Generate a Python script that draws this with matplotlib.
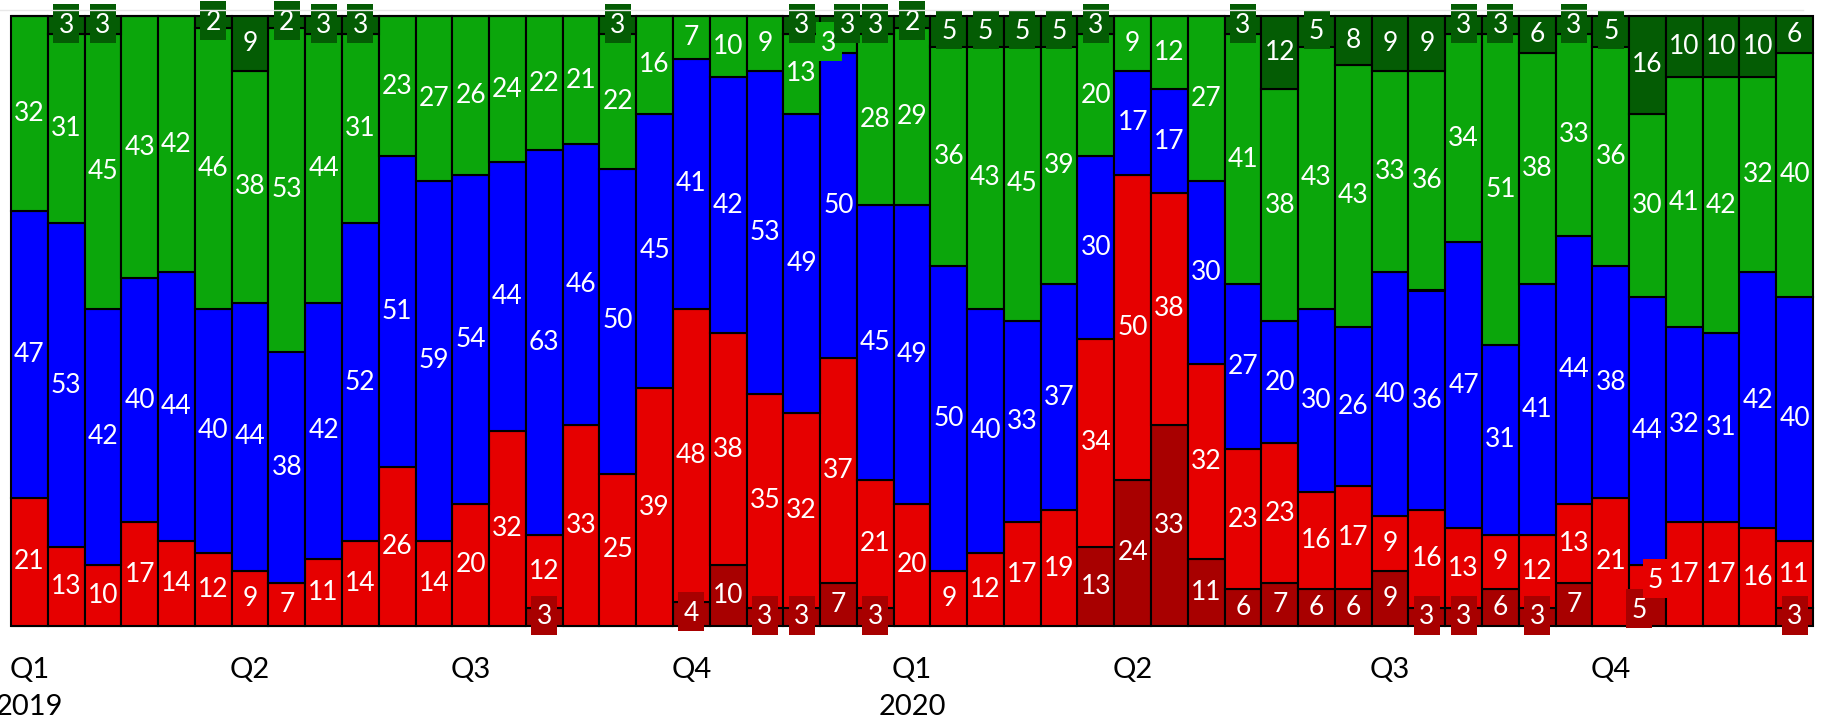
import matplotlib
matplotlib.use('Agg')
import matplotlib.pyplot as plt
from matplotlib.lines import Line2D
from matplotlib.patches import Rectangle

# ---- data (percent shares per bar, bottom to top) ----
dark_red = [0, 0, 0, 0, 0, 0, 0, 0, 0, 0, 0, 0, 0, 0, 3, 0, 0, 0, 4, 10,
            3, 3, 7, 3, 0, 0, 0, 0, 0, 13, 24, 33, 11, 6, 7, 6, 6, 9, 3, 3,
            6, 3, 7, 0, 5, 0, 0, 0, 3]
red = [21, 13, 10, 17, 14, 12, 9, 7, 11, 14, 26, 14, 20, 32, 12, 33, 25, 39, 48, 38,
       35, 32, 37, 21, 20, 9, 12, 17, 19, 34, 50, 38, 32, 23, 23, 16, 17, 9, 16, 13,
       9, 12, 13, 21, 5, 17, 17, 16, 11]
blue = [47, 53, 42, 40, 44, 40, 44, 38, 42, 52, 51, 59, 54, 44, 63, 46, 50, 45, 41, 42,
        53, 49, 50, 45, 49, 50, 40, 33, 37, 30, 17, 17, 30, 27, 20, 30, 26, 40, 36, 47,
        31, 41, 44, 38, 44, 32, 31, 42, 40]
green = [32, 31, 45, 43, 42, 46, 38, 53, 44, 31, 23, 27, 26, 24, 22, 21, 22, 16, 7, 10,
         9, 13, 3, 28, 29, 36, 43, 45, 39, 20, 9, 12, 27, 41, 38, 43, 43, 33, 36, 34,
         51, 38, 33, 36, 30, 41, 42, 32, 40]
dark_green = [0, 3, 3, 0, 0, 2, 9, 2, 3, 3, 0, 0, 0, 0, 0, 0, 3, 0, 0, 0,
              0, 3, 3, 3, 2, 5, 5, 5, 5, 3, 0, 0, 0, 3, 12, 5, 8, 9, 9, 3,
              3, 6, 3, 5, 16, 10, 10, 10, 6]

tick_bars = [0, 6, 12, 18, 24, 30, 37, 43]
tick_labels = ['Q1\n2019', 'Q2', 'Q3', 'Q4', 'Q1\n2020', 'Q2', 'Q3', 'Q4']

# ---- styling ----
colors = {
    'dark_red': '#A80000',
    'red': '#E60000',
    'blue': '#0000FF',
    'green': '#0BA60B',
    'dark_green': '#045C04',
}
# manual label nudges (bar index, series) -> x offset in bar widths
nudges = {(22, 'green'): -0.27, (22, 'dark_green'): 0.24,
          (44, 'dark_red'): -0.23, (44, 'red'): 0.22}
BOX_W = 0.707   # label box width (bar units)
BOX_H = 6.4     # label box height (percent units)

W, H = 1825, 721
fig = plt.figure(figsize=(W / 100, H / 100), dpi=100)
ax = fig.add_axes([11 / W, 95 / H, 1802 / W, 610 / H])

series = [('dark_red', dark_red), ('red', red), ('blue', blue),
          ('green', green), ('dark_green', dark_green)]
n = len(red)
x = list(range(n))
bottom = [0.0] * n
for name, vals in series:
    col = colors[name]
    ax.bar(x, vals, width=1.0, bottom=bottom, color=col, edgecolor='black',
           linewidth=1.5, clip_on=False, zorder=2)
    for i, (v, b) in enumerate(zip(vals, bottom)):
        if v <= 0:
            continue
        cx = i + nudges.get((i, name), 0)
        cy = b + v / 2
        if v <= 5:
            ax.add_patch(Rectangle((cx - BOX_W / 2, cy - BOX_H / 2 + 0.3), BOX_W, BOX_H,
                                   facecolor=col, edgecolor='none', zorder=4,
                                   clip_on=False))
        ax.text(cx, cy, str(v), ha='center', va='center',
                color='white', fontsize=19, family='Lato', zorder=5,
                clip_on=False)
    bottom = [b + v for b, v in zip(bottom, vals)]

ax.set_xlim(-0.5, n - 0.5)
ax.set_ylim(0, 100)
ax.set_yticks([])
ax.set_xticks(tick_bars)
ax.set_xticklabels(tick_labels, fontsize=21, family='Lato')
for t in ax.get_xticklabels():
    t.set_linespacing(1.55)
ax.tick_params(axis='x', length=0, pad=22)
for s in ax.spines.values():
    s.set_visible(False)

fig.add_artist(Line2D([0, 1803 / W], [1 - 10 / H, 1 - 10 / H],
                      color='#e8e8e8', lw=1, transform=fig.transFigure))

fig.savefig('out.png', dpi=100)
